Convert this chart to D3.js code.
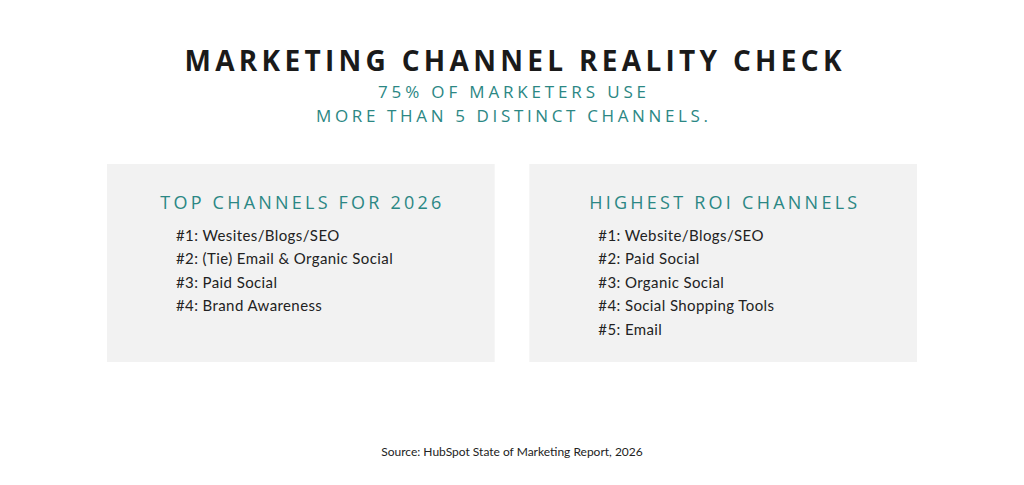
<!DOCTYPE html>
<html><head><meta charset="utf-8">
<script src="https://cdn.jsdelivr.net/npm/d3@7"></script>
<style>body{margin:0;background:#fff}</style>
</head><body><div id="vis"></div>
<script>
const W = 1024, H = 485;
const TEAL = "#2b8784";

const title = "MARKETING CHANNEL REALITY CHECK";
const subtitle = ["75% OF MARKETERS USE", "MORE THAN 5 DISTINCT CHANNELS."];
const panelTitles = ["TOP CHANNELS FOR 2026", "HIGHEST ROI CHANNELS"];
const topChannels = ["#1: Wesites/Blogs/SEO", "#2: (Tie) Email & Organic Social", "#3: Paid Social", "#4: Brand Awareness"];
const roiChannels = ["#1: Website/Blogs/SEO", "#2: Paid Social", "#3: Organic Social", "#4: Social Shopping Tools", "#5: Email"];
const source = "Source: HubSpot State of Marketing Report, 2026";

const svg = d3.select("#vis").append("svg").attr("width", W).attr("height", H);

svg.append("text").attr("x", 513).attr("y", 71).attr("text-anchor", "middle")
  .attr("font-family", "Open Sans").attr("font-weight", 700).attr("font-size", 28)
  .attr("fill", "#1a1a1a").attr("textLength", 657).attr("lengthAdjust", "spacing").text(title);

const subW = [268, 392];
subtitle.forEach((s, i) => svg.append("text").attr("x", 512).attr("y", 98 + i * 24)
  .attr("text-anchor", "middle").attr("font-family", "Open Sans").attr("font-size", 17)
  .attr("fill", TEAL).attr("textLength", subW[i]).attr("lengthAdjust", "spacing").text(s));

const px = d3.scaleBand().domain([0, 1]).range([107, 917]).paddingInner(0.082);
const lists = [topChannels, roiChannels];
const titleW = [281, 268];

lists.forEach((items, i) => {
  const g = svg.append("g").attr("transform", `translate(${px(i)},164)`);
  g.append("rect").attr("width", px.bandwidth()).attr("height", 198).attr("fill", "#f2f2f2");
  g.append("text").attr("x", px.bandwidth() / 2).attr("y", 45).attr("text-anchor", "middle")
    .attr("font-family", "Open Sans").attr("font-size", 18).attr("fill", TEAL)
    .attr("textLength", titleW[i]).attr("lengthAdjust", "spacing").text(panelTitles[i]);
  const y = d3.scaleBand().domain(d3.range(5)).range([60, 177]);
  g.selectAll("text.item").data(items).enter().append("text").attr("class", "item")
    .attr("x", 69).attr("y", (d, j) => y(j) + 17)
    .attr("font-family", "Lato").attr("font-size", 15).attr("letter-spacing", 0.4)
    .attr("fill", "#222").text(d => d);
});

svg.append("text").attr("x", 512).attr("y", 456).attr("text-anchor", "middle")
  .attr("font-family", "Lato").attr("font-size", 12).attr("fill", "#222").text(source);
</script></body></html>
